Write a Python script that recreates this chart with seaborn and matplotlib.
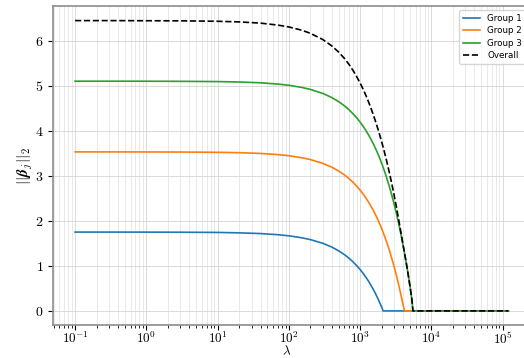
import numpy as np
import pandas as pd
import seaborn as sns
import matplotlib
matplotlib.use('Agg')
import matplotlib.pyplot as plt
from matplotlib.ticker import FuncFormatter, LogLocator, FixedLocator

# lambda values (log scale) and group norms
lambdas = [0.1, 0.3, 1, 3, 10, 20, 40, 70, 100, 150, 200, 300, 400, 500, 600, 700, 800,
           900, 1000, 1100, 1200, 1300, 1400, 1500, 1600, 1700, 1800, 1900, 2000, 2100,
           2300, 2600, 2900, 3200, 3500, 3800, 4000, 4200, 4500, 4800, 5100, 5300, 5500,
           7000, 10000, 30000, 120000]

group1 = [1.75, 1.75, 1.749, 1.747, 1.742, 1.733, 1.717, 1.692, 1.667, 1.625, 1.583,
          1.500, 1.417, 1.333, 1.250, 1.167, 1.083, 1.000, 0.917, 0.833, 0.750, 0.667,
          0.583, 0.500, 0.417, 0.333, 0.250, 0.167, 0.083, 0.0,
          0.0, 0.0, 0.0, 0.0, 0.0, 0.0, 0.0, 0.0, 0.0, 0.0, 0.0, 0.0, 0.0,
          0.0, 0.0, 0.0, 0.0]

group2 = [3.53, 3.53, 3.529, 3.527, 3.521, 3.513, 3.496, 3.470, 3.445, 3.402, 3.360,
          3.275, 3.190, 3.105, 3.020, 2.935, 2.850, 2.764, 2.679, 2.594, 2.509, 2.424,
          2.339, 2.254, 2.169, 2.084, 1.999, 1.914, 1.829, 1.744,
          1.574, 1.318, 1.063, 0.808, 0.553, 0.298, 0.128, 0.0, 0.0, 0.0, 0.0, 0.0, 0.0,
          0.0, 0.0, 0.0, 0.0]

group3 = [5.10, 5.10, 5.099, 5.097, 5.091, 5.082, 5.064, 5.036, 5.009, 4.963, 4.918,
          4.827, 4.736, 4.645, 4.554, 4.463, 4.371, 4.280, 4.189, 4.098, 4.007, 3.916,
          3.825, 3.734, 3.643, 3.552, 3.461, 3.370, 3.279, 3.188,
          3.005, 2.732, 2.459, 2.186, 1.913, 1.639, 1.457, 1.275, 1.002, 0.729, 0.455,
          0.273, 0.0, 0.0, 0.0, 0.0, 0.0]

overall = [6.445, 6.445, 6.442, 6.440, 6.430, 6.416, 6.389, 6.345, 6.304, 6.233, 6.163,
           6.023, 5.883, 5.744, 5.606, 5.468, 5.330, 5.192, 5.056, 4.921, 4.787, 4.654,
           4.522, 4.390, 4.260, 4.132, 4.005, 3.879, 3.755, 3.634,
           3.392, 3.033, 2.679, 2.331, 1.991, 1.666, 1.463, 1.275, 1.002, 0.729, 0.455,
           0.273, 0.0, 0.0, 0.0, 0.0, 0.0]

group_names = ['Group 1', 'Group 2', 'Group 3']
x_ticks = [1e-1, 1e0, 1e1, 1e2, 1e3, 1e4, 1e5]

df = pd.DataFrame({
    'lam': lambdas * 3,
    'norm': group1 + group2 + group3,
    'group': np.repeat(group_names, len(lambdas)),
})

plt.rcParams['mathtext.fontset'] = 'cm'

fig = plt.figure(figsize=(5.24, 3.58), dpi=100)
ax = fig.add_axes([0.102, 0.091, 0.9095, 0.892])

sns.lineplot(data=df, x='lam', y='norm', hue='group', palette=['#1f77b4', '#ff7f0e', '#2ca02c'],
             estimator=None, linewidth=1.2, ax=ax)
sns.lineplot(x=lambdas, y=overall, color='black', linestyle='--', linewidth=1.2,
             label='Overall', estimator=None, ax=ax)

ax.set_xscale('log')
ax.xaxis.set_major_locator(FixedLocator(x_ticks))
ax.xaxis.set_minor_locator(LogLocator(base=10, subs=np.arange(2, 10), numticks=20))
ax.xaxis.set_major_formatter(FuncFormatter(lambda v, p: r'$10^{%d}$' % round(np.log10(v))))
ax.yaxis.set_major_formatter(FuncFormatter(lambda v, p: r'$%d$' % v))
ax.tick_params(labelsize=10)
ax.tick_params(axis='x', labelsize=9.5, pad=0.5)

ax.grid(True, which='major', color='#d4d4d4', linewidth=0.6)
ax.grid(True, which='minor', axis='x', color='#e0e0e0', linewidth=0.5)
for s in ax.spines.values():
    s.set_color('#8c8c8c')
    s.set_linewidth(1.2)

ax.set_xlabel(r'$\lambda$', fontsize=9.5)
ax.xaxis.set_label_coords(0.49, -0.061)
ax.set_ylabel(r'$||\boldsymbol{\beta}_j||_2$', fontsize=11, labelpad=0)
ax.legend(loc='upper right', fontsize=6.3, borderaxespad=0.5, labelspacing=0.4)

fig.savefig('out.png', dpi=100)
